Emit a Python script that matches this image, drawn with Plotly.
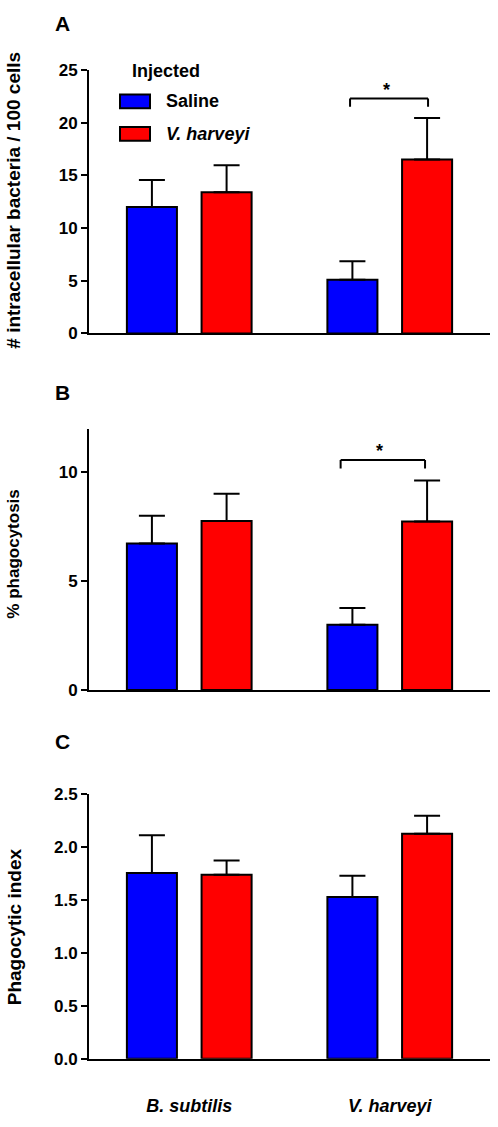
import plotly.graph_objects as go

categories = ["B. subtilis", "V. harveyi"]
groups = ["Saline", "V. harveyi"]

# Panel A: # intracellular bacteria / 100 cells
a_saline = [12.0, 5.1]
a_saline_err = [14.55, 6.85]
a_vh = [13.4, 16.5]
a_vh_err = [15.95, 20.45]

# Panel B: % phagocytosis
b_saline = [6.73, 3.0]
b_saline_err = [8.01, 3.77]
b_vh = [7.77, 7.74]
b_vh_err = [9.02, 9.62]

# Panel C: phagocytic index
c_saline = [1.752, 1.526]
c_saline_err = [2.108, 1.727]
c_vh = [1.736, 2.123]
c_vh_err = [1.87, 2.293]

W, H = 498, 1127
FONT = "Liberation Sans, Arial, sans-serif"
BLUE = "#0000FF"
RED = "#FF0000"

fig = go.Figure()

panels = [
    ("", "y", a_saline, a_saline_err, a_vh, a_vh_err),
    ("2", "y2", b_saline, b_saline_err, b_vh, b_vh_err),
    ("3", "y3", c_saline, c_saline_err, c_vh, c_vh_err),
]

for sfx, yref, s, se, v, ve in panels:
    for name, vals, tops, col in [(groups[0], s, se, BLUE), (groups[1], v, ve, RED)]:
        fig.add_trace(go.Bar(
            x=categories, y=vals, name=name, showlegend=False, hoverinfo="skip",
            xaxis="x" + sfx, yaxis=yref, offsetgroup=name,
            marker=dict(color=col, line=dict(color="black", width=2)),
            error_y=dict(type="data", symmetric=False,
                         array=[t - m for t, m in zip(tops, vals)],
                         arrayminus=[0] * len(vals),
                         color="black", thickness=2, width=13),
        ))

def px_dom(top, bottom):
    return [1 - bottom / H, 1 - top / H]

xdom = [89 / W, 490 / W]
ydomA = px_dom(62, 330)
ydomB = px_dom(427, 692.7)
ydomC = px_dom(798.3, 1067.7)

xcommon = dict(domain=xdom, range=[-0.5, 1.5], type="category", showline=True,
               linecolor="black", linewidth=2, ticks="", showgrid=False, zeroline=False,
               fixedrange=True)
ycommon = dict(showline=True, linecolor="black", linewidth=2, ticks="outside",
               ticklen=6, tickwidth=2, tickcolor="black", showgrid=False, zeroline=False,
               fixedrange=True,
               tickfont=dict(family=FONT, size=17, color="black", weight="bold"))

fig.update_layout(
    width=W, height=H, margin=dict(l=0, r=0, t=0, b=0),
    plot_bgcolor="white", paper_bgcolor="white",
    barmode="group", bargap=0.255, bargroupgap=0.33,
    showlegend=False, hovermode=False,
    xaxis=dict(**xcommon, anchor="y", showticklabels=False),
    xaxis2=dict(**xcommon, anchor="y2", showticklabels=False),
    xaxis3=dict(**xcommon, anchor="y3", showticklabels=True,
                ticklabelstandoff=30,
                tickfont=dict(family=FONT, size=18, color="black", weight="bold", style="italic")),
    yaxis=dict(**ycommon, domain=ydomA, anchor="x", range=[0, 25], tickvals=[0, 5, 10, 15, 20, 25]),
    yaxis2=dict(**ycommon, domain=ydomB, anchor="x2", range=[0, 12], tickvals=[0, 5, 10]),
    yaxis3=dict(**ycommon, domain=ydomC, anchor="x3", range=[0, 2.5],
                tickvals=[0, 0.5, 1.0, 1.5, 2.0, 2.5], tickformat=".1f"),
)

# Significance brackets
brackets = [("x", "y", 0.802, 1.191, 22.3, 21.5, 23.1),
            ("x2", "y2", 0.755, 1.176, 10.57, 10.18, 10.98)]
for xr, yr, x0, x1, ytop, yleg, yast in brackets:
    fig.add_shape(type="line", xref=xr, yref=yr, x0=x0, x1=x1, y0=ytop, y1=ytop,
                  line=dict(color="black", width=2))
    fig.add_shape(type="line", xref=xr, yref=yr, x0=x0, x1=x0, y0=yleg, y1=ytop,
                  line=dict(color="black", width=2))
    fig.add_shape(type="line", xref=xr, yref=yr, x0=x1, x1=x1, y0=yleg, y1=ytop,
                  line=dict(color="black", width=2))
    fig.add_annotation(xref=xr, yref=yr, x=(x0 + x1) / 2 - 0.015, y=yast, text="<b>*</b>",
                       showarrow=False, font=dict(family=FONT, size=18, color="black"),
                       xanchor="center", yanchor="middle")

# Panel letters
for letter, ypx in [("A", 15), ("B", 390), ("C", 745)]:
    fig.add_annotation(xref="paper", yref="paper", x=63 / W, y=1 - ypx / H,
                       text="<b>%s</b>" % letter, showarrow=False,
                       font=dict(family=FONT, size=21, color="black"),
                       xanchor="center", yanchor="middle")

# Y-axis titles
ytitles = [("# intracellular bacteria / 100 cells", 195, 19),
           ("% phagocytosis", 555, 17),
           ("Phagocytic index", 934, 19)]
for txt, ypx, sz in ytitles:
    fig.add_annotation(xref="paper", yref="paper", x=14 / W, y=1 - ypx / H,
                       text="<b>%s</b>" % txt, showarrow=False, textangle=-90,
                       font=dict(family=FONT, size=sz, color="black"),
                       xanchor="center", yanchor="middle")

# Legend (manual, panel A)
fig.add_annotation(xref="paper", yref="paper", x=130 / W, y=1 - 63 / H,
                   text="<b>Injected</b>", showarrow=False,
                   font=dict(family=FONT, size=18, color="black"),
                   xanchor="left", yanchor="middle")
for name, col, ycen, italic in [(groups[0], BLUE, 94, False), (groups[1], RED, 127, True)]:
    fig.add_shape(type="rect", xref="paper", yref="paper",
                  x0=120 / W, x1=150 / W, y0=1 - (ycen - 7) / H, y1=1 - (ycen + 7) / H,
                  fillcolor=col, line=dict(color="black", width=2))
    label = "<b><i>%s</i></b>" % name if italic else "<b>%s</b>" % name
    fig.add_annotation(xref="paper", yref="paper", x=164 / W, y=1 - ycen / H,
                       text=label, showarrow=False,
                       font=dict(family=FONT, size=18, color="black"),
                       xanchor="left", yanchor="middle")

fig.write_html("out.html", config={"displayModeBar": False, "staticPlot": True},
               post_script="document.body.style.margin='0';document.body.style.overflow='hidden';")
